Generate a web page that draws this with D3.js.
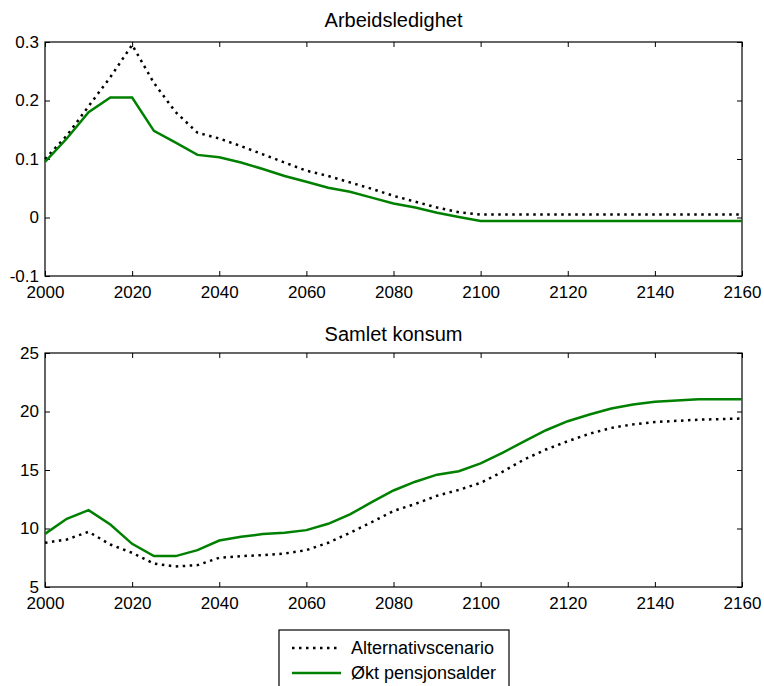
<!DOCTYPE html>
<html>
<head>
<meta charset="utf-8">
<script src="https://cdn.jsdelivr.net/npm/d3@7"></script>
<style>
  body { margin: 0; background: #fff; }
  svg { display: block; font-family: "Liberation Sans", Arial, sans-serif; }
</style>
</head>
<body>
<svg id="chart" width="764" height="686"></svg>
<script>
const years = [2000, 2005, 2010, 2015, 2020, 2025, 2030, 2035, 2040, 2045, 2050,
    2055, 2060, 2065, 2070, 2075, 2080, 2085, 2090, 2095, 2100, 2105, 2110,
    2115, 2120, 2125, 2130, 2135, 2140, 2145, 2150, 2155, 2160];

const xTicks = [2000, 2020, 2040, 2060, 2080, 2100, 2120, 2140, 2160];

// Arbeidsledighet
const altLedighet = [0.100, 0.140, 0.190, 0.240, 0.295, 0.230, 0.180, 0.145, 0.135, 0.122, 0.108,
    0.094, 0.080, 0.071, 0.060, 0.049, 0.037, 0.027, 0.017, 0.009, 0.005, 0.005, 0.005,
    0.005, 0.005, 0.005, 0.005, 0.005, 0.005, 0.005, 0.005, 0.005, 0.005];
const pensLedighet = [0.095, 0.135, 0.180, 0.205, 0.205, 0.148, 0.128, 0.107, 0.103, 0.094, 0.083,
    0.071, 0.061, 0.051, 0.044, 0.034, 0.024, 0.017, 0.008, 0.001, -0.006, -0.006, -0.006,
    -0.006, -0.006, -0.006, -0.006, -0.006, -0.006, -0.006, -0.006, -0.006, -0.006];
const ledighetTicks = [-0.1, 0, 0.1, 0.2, 0.3];

// Samlet konsum
const altKonsum = [8.78, 9.06, 9.72, 8.63, 7.92, 7.00, 6.75, 6.87, 7.50, 7.64, 7.72,
    7.86, 8.15, 8.78, 9.63, 10.54, 11.5, 12.1, 12.8, 13.3, 13.9, 14.84, 15.9,
    16.75, 17.46, 18.1, 18.6, 18.9, 19.1, 19.2, 19.3, 19.35, 19.4];
const pensKonsum = [9.54, 10.83, 11.57, 10.34, 8.69, 7.64, 7.64, 8.15, 8.97, 9.29, 9.52,
    9.63, 9.86, 10.4, 11.2, 12.25, 13.25, 14.0, 14.6, 14.9, 15.56, 16.47, 17.44,
    18.4, 19.17, 19.74, 20.26, 20.6, 20.83, 20.94, 21.05, 21.05, 21.05];
const konsumTicks = [5, 10, 15, 20, 25];

const seriesNames = ["Alternativscenario", "Økt pensjonsalder"];

const svg = d3.select("#chart");
const green = "#008000";

function panel(opts) {
    const { top, bottom, left, right, title, titleY, yDomain, yTicks, alt, pens } = opts;

    const x = d3.scaleLinear().domain([2000, 2160]).range([left, right]);
    const y = d3.scaleLinear().domain(yDomain).range([bottom, top]);
    const fmt = d => String(+d.toFixed(1));

    const g = svg.append("g");

    // title
    g.append("text")
        .attr("x", (left + right) / 2)
        .attr("y", titleY)
        .attr("text-anchor", "middle")
        .style("font-size", "20px")
        .text(title);

    // axes, ticks pointing inward
    const styleAxis = sel => {
        sel.select(".domain").remove();
        sel.selectAll("line").attr("stroke", "#000");
        sel.selectAll("text").style("font-size", "17px").attr("fill", "#000").style("font-family", "Liberation Sans, Arial, sans-serif");
    };

    g.append("g")
        .attr("transform", `translate(0,${bottom})`)
        .call(d3.axisBottom(x).tickValues(xTicks).tickFormat(d3.format("d")).tickSizeInner(-5).tickSizeOuter(0).tickPadding(10))
        .call(styleAxis);

    g.append("g")
        .attr("transform", `translate(0,${top})`)
        .call(d3.axisTop(x).tickValues(xTicks).tickFormat("").tickSizeInner(-5).tickSizeOuter(0))
        .call(styleAxis);

    g.append("g")
        .attr("transform", `translate(${left},0)`)
        .call(d3.axisLeft(y).tickValues(yTicks).tickFormat(fmt).tickSizeInner(-5).tickSizeOuter(0).tickPadding(6))
        .call(styleAxis);

    g.append("g")
        .attr("transform", `translate(${right},0)`)
        .call(d3.axisRight(y).tickValues(yTicks).tickFormat("").tickSizeInner(-5).tickSizeOuter(0))
        .call(styleAxis);

    // frame
    g.append("rect")
        .attr("x", left).attr("y", top)
        .attr("width", right - left).attr("height", bottom - top)
        .attr("fill", "none").attr("stroke", "#000").attr("stroke-width", 1.2);

    const line = d3.line()
        .x((d, i) => x(years[i]))
        .y(d => y(d));

    g.append("path")
        .datum(alt)
        .attr("d", line)
        .attr("fill", "none")
        .attr("stroke", "#000")
        .attr("stroke-width", 2.5)
        .attr("stroke-dasharray", "2.5,4.5");

    g.append("path")
        .datum(pens)
        .attr("d", line)
        .attr("fill", "none")
        .attr("stroke", green)
        .attr("stroke-width", 2.5);
}

panel({
    top: 42, bottom: 276, left: 45, right: 742,
    title: "Arbeidsledighet", titleY: 27,
    yDomain: [-0.1, 0.3], yTicks: ledighetTicks,
    alt: altLedighet, pens: pensLedighet
});

panel({
    top: 353, bottom: 587, left: 45, right: 742,
    title: "Samlet konsum", titleY: 341,
    yDomain: [5, 25], yTicks: konsumTicks,
    alt: altKonsum, pens: pensKonsum
});

// legend
const legend = svg.append("g").attr("transform", "translate(279,630)");
legend.append("rect")
    .attr("x", 0).attr("y", 0)
    .attr("width", 230).attr("height", 70)
    .attr("fill", "#fff").attr("stroke", "#000").attr("stroke-width", 1.2);

seriesNames.forEach((name, i) => {
    const row = legend.append("g").attr("transform", `translate(0,${18 + i * 25})`);
    row.append("line")
        .attr("x1", 13).attr("x2", 62)
        .attr("y1", 0).attr("y2", 0)
        .attr("stroke", i === 0 ? "#000" : green)
        .attr("stroke-width", 2.5)
        .attr("stroke-dasharray", i === 0 ? "2.5,4.5" : null);
    row.append("text")
        .attr("x", 72)
        .attr("y", 6)
        .style("font-size", "18px")
        .text(name);
});
</script>
</body>
</html>
